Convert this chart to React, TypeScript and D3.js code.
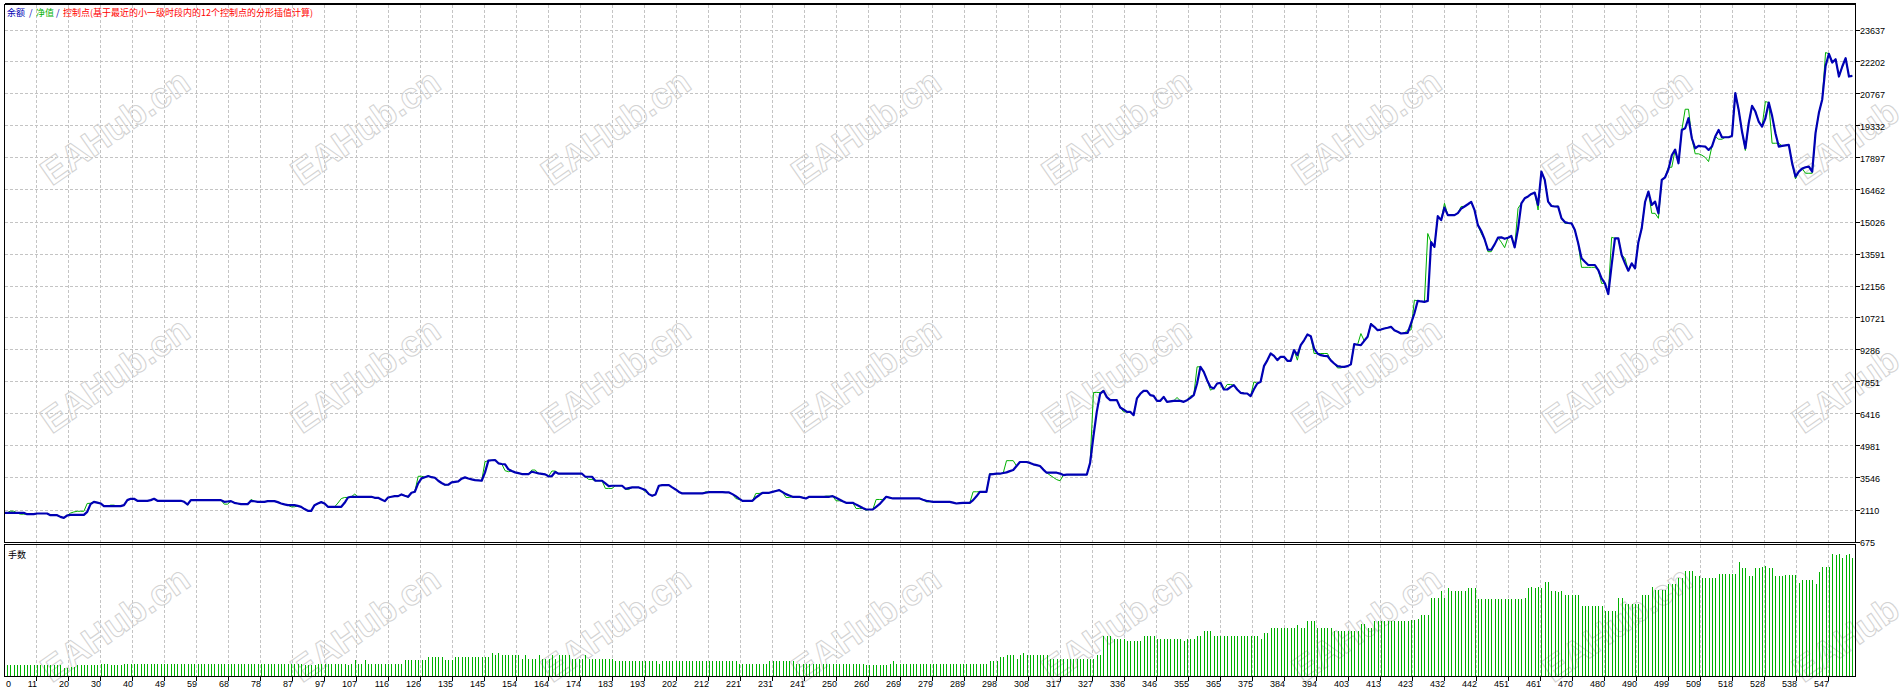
import React from "react";
import * as d3 from "d3";

// ---------- data ----------
const yTickLabels = [675, 2110, 3546, 4981, 6416, 7851, 9286, 10721, 12156, 13591, 15026, 16462, 17897, 19332, 20767, 22202, 23637];

const xTickLabels = [11, 20, 30, 40, 49, 59, 68, 78, 87, 97, 107, 116, 126, 135, 145, 154, 164, 174, 183, 193, 202, 212, 221, 231, 241, 250, 260, 269, 279, 289, 298, 308, 317, 327, 336, 346, 355, 365, 375, 384, 394, 403, 413, 423, 432, 442, 451, 461, 470, 480, 490, 499, 509, 518, 528, 538, 547];

const balance = [
  1960,1960,1960,1960,1960,1960,1960,1960,1900,1900,
  1900,1930,1930,1930,1930,1855,1855,1855,1780,1735,
  1840,1870,1870,1870,1870,1870,2005,2350,2455,2420,
  2380,2260,2260,2260,2260,2260,2260,2305,2530,2590,
  2590,2500,2500,2500,2500,2530,2590,2500,2500,2500,
  2500,2500,2500,2500,2500,2455,2335,2530,2530,2530,
  2530,2530,2530,2530,2530,2530,2530,2455,2470,2485,
  2410,2380,2350,2350,2350,2500,2480,2455,2455,2455,
  2485,2485,2485,2440,2380,2340,2305,2305,2305,2270,
  2230,2130,2050,2050,2305,2380,2440,2380,2230,2230,
  2230,2230,2230,2410,2650,2680,2680,2680,2680,2680,
  2680,2680,2635,2635,2560,2485,2650,2680,2710,2710,
  2785,2730,2680,2860,2905,3280,3505,3560,3610,3560,
  3535,3400,3300,3220,3220,3325,3350,3370,3490,3550,
  3500,3460,3430,3415,3400,3775,4300,4320,4330,4180,
  4150,4135,3910,3840,3775,3740,3700,3700,3700,3805,
  3770,3730,3710,3685,3600,3610,3790,3715,3715,3715,
  3715,3715,3715,3715,3715,3580,3580,3580,3400,3400,
  3400,3280,3160,3175,3175,3175,3175,3040,3070,3100,
  3100,3100,3040,2980,2800,2725,2785,3175,3205,3205,
  3205,3100,3010,2900,2830,2830,2830,2830,2830,2830,
  2830,2860,2890,2890,2890,2890,2890,2875,2875,2800,
  2710,2600,2500,2500,2500,2500,2650,2750,2860,2860,
  2860,2900,2940,2980,2890,2800,2740,2680,2680,2680,
  2640,2605,2680,2680,2680,2680,2680,2680,2680,2710,
  2640,2560,2480,2410,2410,2410,2330,2260,2180,2110,
  2110,2110,2230,2350,2510,2680,2640,2605,2605,2605,
  2605,2605,2605,2605,2605,2605,2550,2500,2480,2455,
  2455,2455,2455,2455,2455,2420,2380,2400,2410,2410,
  2410,2530,2700,2905,2905,2905,3685,3700,3715,3715,
  3745,3775,3830,3880,4060,4240,4240,4240,4200,4135,
  4100,4060,3900,3760,3760,3760,3760,3720,3655,3670,
  3670,3670,3670,3670,3670,3670,4200,5400,6500,7300,
  7433,7150,7014,7014,7014,6685,6595,6490,6490,6340,
  7089,7300,7433,7433,7238,7208,6984,6984,7163,6939,
  6960,6984,6984,6984,6939,7014,7120,7238,7761,8509,
  8285,7911,7600,7537,7761,7791,7492,7492,7600,7687,
  7492,7343,7320,7313,7193,7500,7761,7836,8539,8800,
  9106,9000,8808,8957,8957,8778,8778,9256,9032,9480,
  9700,9959,9884,9330,9106,9032,9002,8990,8800,8658,
  8539,8520,8509,8539,8620,9525,9500,9480,9675,9854,
  10422,10303,10153,10180,10228,10260,10303,10150,10078,10004,
  10020,10034,10452,10900,11468,11440,11424,11468,14100,13890,
  15266,15087,15650,15311,15311,15311,15400,15600,15700,15800,
  15909,15535,14862,14600,14230,13760,13760,14000,14300,14316,
  14250,14300,14376,13867,14700,15843,16067,16150,16261,16321,
  15767,17264,16890,15917,15723,15700,15693,15169,15000,14960,
  14945,14645,14047,13374,13224,13075,13075,13075,12850,12476,
  12251,11772,13075,14271,14271,13524,13150,12820,13150,12925,
  14100,14720,15900,16366,15767,15917,15393,16890,17010,17369,
  18000,18250,17638,19134,19209,19658,18760,18311,18416,18400,
  18386,18236,18386,18835,19134,18805,18805,18805,18865,20780,
  20032,19059,18311,19433,20212,19957,19508,19284,19658,20361,
  19763,18985,18386,18416,18440,18461,17638,17040,17264,17400,
  17459,17489,17264,19000,19900,20500,22000,22546,22157,22307,
  21528,21977,22352,21528,21558,
];

const equity = [
  1960,1960,1960,2035,2035,1960,1900,1900,1900,1900,
  1900,1930,1930,1930,1930,1855,1855,1855,1780,1735,
  1840,1950,2000,2030,2030,2030,2380,2390,2455,2420,
  2380,2260,2260,2305,2305,2260,2260,2305,2530,2590,
  2590,2500,2500,2500,2500,2530,2590,2500,2500,2500,
  2500,2500,2500,2500,2500,2455,2305,2530,2530,2530,
  2530,2530,2530,2530,2530,2530,2530,2350,2350,2485,
  2410,2380,2350,2350,2350,2560,2480,2455,2455,2455,
  2485,2485,2485,2440,2380,2340,2305,2230,2230,2270,
  2230,2130,2050,2050,2305,2380,2440,2380,2230,2230,
  2230,2400,2600,2650,2650,2680,2800,2680,2680,2680,
  2680,2680,2635,2635,2560,2485,2650,2680,2710,2710,
  2785,2730,2650,2860,2905,3600,3600,3560,3610,3560,
  3535,3400,3300,3200,3220,3325,3350,3370,3490,3550,
  3500,3460,3430,3415,3400,4255,4300,4320,4330,4180,
  4150,3850,3805,3840,3775,3740,3700,3700,3700,3880,
  3880,3730,3710,3685,3600,3835,3835,3715,3715,3715,
  3715,3715,3715,3715,3715,3580,3460,3460,3400,3400,
  3400,3055,3055,3055,3175,3175,3175,3010,3010,3100,
  3100,3100,3040,2905,2800,2725,2785,3175,3205,3205,
  3205,3100,3010,2905,2830,2830,2830,2830,2830,2830,
  2830,2905,2890,2890,2890,2890,2890,2875,2875,2800,
  2605,2560,2500,2500,2500,2500,2830,2830,2860,2860,
  2860,2900,2940,2980,2890,2650,2650,2680,2680,2680,
  2640,2605,2680,2680,2680,2680,2680,2710,2710,2710,
  2500,2500,2480,2410,2410,2410,2155,2155,2155,2080,
  2110,2110,2560,2560,2560,2680,2640,2605,2605,2605,
  2605,2605,2605,2605,2605,2605,2550,2455,2455,2455,
  2455,2455,2455,2455,2455,2420,2380,2400,2410,2410,
  2410,2905,2905,2905,2905,2905,3730,3700,3715,3715,
  3745,4300,4300,4300,4060,4240,4240,4240,4200,4135,
  4100,4060,3900,3760,3650,3550,3450,3400,3655,3670,
  3670,3670,3670,3670,3670,3670,4200,7358,7358,7358,
  7433,7150,7014,7014,7014,6685,6490,6490,6490,6340,
  7089,7300,7433,7433,7238,7208,6984,6984,7163,6939,
  6960,6984,7133,6984,6939,7014,7193,7238,8509,8509,
  8285,7911,7462,7537,7761,7791,7492,7717,7717,7687,
  7492,7343,7320,7313,7193,7836,7761,7836,8539,8800,
  9106,9000,8808,8957,8957,8778,8778,9256,8808,9480,
  9700,9959,9884,9106,9106,9106,9106,9106,8800,8658,
  8460,8460,8509,8539,8620,9525,9500,10000,9675,9854,
  10470,10303,10153,10180,10228,10260,10303,10150,10078,10004,
  10020,10160,10160,11500,11468,11440,11424,14488,14100,13890,
  15266,15087,15844,15311,15311,15311,15400,15700,15700,15800,
  15909,15535,14862,14488,14230,13673,13673,14000,14300,14100,
  13853,14300,14376,13867,15618,15843,16067,16150,16261,16321,
  15543,17264,16890,15917,15723,15700,15720,15169,14945,14945,
  14945,14645,14047,12970,12970,12970,12970,12970,12850,12251,
  12251,11772,14316,14271,14271,13524,13374,12820,13150,12925,
  14100,14720,15900,16366,15393,15393,15169,16890,17010,17459,
  17459,18250,17638,19134,20061,20061,18760,18062,18062,18000,
  17900,17713,18386,18835,18715,18715,18805,18805,18865,20780,
  20032,19059,18211,19433,20212,19957,19508,19284,20406,20361,
  18536,18536,18536,18416,18440,18461,17638,16935,17264,17400,
  17190,17190,17190,19000,19900,20500,22606,22546,22157,22307,
  21528,21977,22352,21528,21558,
];

const lots = [
  .08,.08,.08,.08,.08,.08,.08,.08,.08,.08,
  .08,.08,.08,.08,.08,.08,.08,.08,.08,.06,
  .06,.07,.07,.08,.08,.08,.08,.08,.08,.08,
  .09,.09,.09,.08,.08,.08,.08,.09,.09,.09,
  .09,.09,.09,.09,.09,.09,.09,.09,.09,.09,
  .09,.09,.09,.09,.09,.09,.09,.09,.09,.09,
  .09,.09,.09,.09,.09,.09,.09,.09,.09,.09,
  .09,.09,.09,.09,.09,.09,.09,.09,.09,.09,
  .09,.09,.09,.09,.09,.09,.09,.09,.09,.09,
  .09,.08,.08,.08,.08,.09,.09,.09,.09,.09,
  .09,.09,.09,.09,.08,.09,.12,.09,.09,.12,
  .09,.09,.09,.09,.09,.09,.09,.09,.09,.09,
  .09,.12,.12,.12,.12,.12,.12,.12,.14,.14,
  .14,.14,.14,.12,.12,.12,.14,.14,.14,.14,
  .14,.14,.14,.14,.14,.14,.14,.17,.16,.17,
  .16,.16,.16,.16,.16,.16,.13,.16,.13,.13,
  .13,.16,.13,.13,.13,.16,.13,.16,.16,.16,
  .16,.13,.13,.13,.13,.16,.13,.13,.13,.13,
  .13,.13,.13,.13,.11,.11,.11,.11,.11,.11,
  .11,.11,.11,.11,.11,.11,.11,.09,.11,.11,
  .11,.11,.11,.11,.11,.11,.11,.11,.11,.11,
  .11,.11,.11,.11,.11,.11,.11,.11,.11,.11,
  .11,.09,.09,.09,.09,.09,.09,.09,.09,.09,
  .11,.11,.11,.11,.11,.11,.11,.11,.09,.09,
  .09,.09,.09,.09,.09,.09,.09,.09,.09,.09,
  .09,.09,.09,.09,.09,.09,.09,.09,.09,.08,
  .08,.08,.08,.08,.08,.08,.09,.11,.09,.09,
  .09,.09,.09,.09,.09,.09,.09,.09,.09,.09,
  .09,.09,.09,.09,.09,.09,.09,.09,.09,.09,
  .09,.09,.09,.09,.09,.09,.11,.11,.11,.14,
  .14,.16,.16,.16,.13,.16,.17,.16,.16,.16,
  .16,.16,.16,.16,.13,.13,.13,.13,.13,.13,
  .13,.13,.13,.13,.13,.13,.13,.13,.16,.16,
  .30,.30,.30,.28,.28,.28,.28,.26,.26,.26,
  .26,.26,.30,.30,.30,.30,.28,.28,.28,.28,
  .28,.28,.28,.28,.26,.28,.28,.28,.30,.30,
  .34,.34,.34,.30,.30,.30,.30,.30,.30,.30,
  .30,.30,.30,.30,.30,.30,.30,.28,.32,.32,
  .36,.36,.36,.36,.36,.36,.36,.36,.38,.36,
  .36,.41,.41,.41,.36,.36,.36,.36,.36,.34,
  .34,.34,.34,.34,.34,.34,.34,.39,.39,.36,
  .36,.41,.41,.41,.41,.41,.41,.41,.41,.41,
  .41,.41,.42,.42,.43,.46,.46,.46,.59,.59,
  .59,.64,.59,.66,.64,.64,.64,.64,.64,.66,
  .66,.66,.58,.58,.58,.58,.58,.58,.58,.58,
  .58,.58,.58,.58,.58,.58,.59,.66,.67,.66,
  .67,.66,.71,.71,.64,.64,.63,.64,.61,.61,
  .61,.61,.61,.53,.53,.53,.53,.53,.53,.53,
  .49,.49,.49,.49,.59,.59,.54,.54,.54,.54,
  .54,.61,.61,.61,.67,.65,.65,.65,.65,.69,
  .69,.69,.74,.74,.79,.79,.79,.75,.75,.74,
  .74,.74,.74,.74,.77,.77,.77,.77,.77,.77,
  .86,.81,.81,.75,.75,.81,.81,.82,.83,.81,
  .81,.75,.75,.75,.76,.76,.76,.76,.70,.72,
  .72,.72,.72,.69,.78,.82,.82,.82,.92,.91,
  .92,.89,.91,.92,.89,
];

const watermarkText = "EAHub.cn";

// ---------- layout ----------
const W = 1900;
const H = 693;
const L = 4.5, R = 1855.5;
const mainTop = 4.5, mainBottom = 542.5;
const volTop = 544.5, volBottom = 676.5;

const BLUE = "#0000b4";
const GREEN = "#00b000";
const GRID = "#c4c4c4";
const NUM_FONT = "'Liberation Sans', Arial, sans-serif";
const CJK_FONT = "'Noto Sans CJK SC', sans-serif";

export default function App() {
  const n = balance.length;
  const x = d3.scaleLinear().domain([0, n - 1]).range([0.3, 0.3 + (n - 1) * 3.343]);
  const y = d3.scaleLinear().domain([yTickLabels[0], yTickLabels[yTickLabels.length - 1]]).range([541.5, 29.5]);
  const yv = d3.scaleLinear().domain([0, 1]).range([676, 543]);
  const xg = d3.scalePoint<number>().domain(xTickLabels).range([36.5, 1828.5]);

  const line = d3.line<number>().x((_, i) => x(i)).y((v) => y(v));
  const balPath = line(balance) || "";
  const eqPath = line(equity) || "";

  const wmCols = d3.range(8).map((k) => 115 + k * 250.3);
  const wmRows = [127, 375, 624];

  return (
    <svg width={W} height={H} viewBox={`0 0 ${W} ${H}`}
      style={{ position: "absolute", left: 0, top: 0, display: "block", background: "#fff" }}>
      <defs>
        <clipPath id="mainClip"><rect x={5} y={5} width={R - 5} height={mainBottom - 5.5} /></clipPath>
        <clipPath id="volClip"><rect x={5} y={volTop + 0.5} width={R - 5} height={volBottom - volTop - 1} /></clipPath>
      </defs>
      <rect x={0} y={0} width={W} height={H} fill="#fff" />

      {/* horizontal grid (main pane) */}
      <g stroke={GRID} strokeWidth={1} strokeDasharray="3,2" shapeRendering="crispEdges">
        {yTickLabels.map((t) => (
          <line key={"h" + t} x1={L} x2={R} y1={Math.round(y(t)) + 0.5} y2={Math.round(y(t)) + 0.5} />
        ))}
        {xTickLabels.map((t) => (
          <g key={"v" + t}>
            <line x1={xg(t)} x2={xg(t)} y1={mainTop} y2={mainBottom} />
            <line x1={xg(t)} x2={xg(t)} y1={volTop} y2={volBottom} />
          </g>
        ))}
      </g>

      {/* watermarks */}
      <g fill="none" stroke="#d2d2d2" strokeWidth={1} fontFamily={NUM_FONT} fontSize={36} fontWeight="bold">
        {wmRows.map((ry) =>
          wmCols.map((cx) => (
            <text key={ry + "-" + cx} transform={`translate(${cx},${ry}) rotate(-35)`} textAnchor="middle" dominantBaseline="central">
              {watermarkText}
            </text>
          ))
        )}
      </g>

      {/* volume bars */}
      <g clipPath="url(#volClip)" stroke={GREEN} strokeWidth={1} shapeRendering="crispEdges">
        {lots.map((v, i) => (
          <line key={i} x1={Math.round(x(i)) + 0.5} x2={Math.round(x(i)) + 0.5} y1={676} y2={yv(v)} />
        ))}
      </g>

      {/* equity & balance */}
      <g clipPath="url(#mainClip)" fill="none">
        <path d={eqPath} stroke={GREEN} strokeWidth={1} />
        <path d={balPath} stroke={BLUE} strokeWidth={2.2} strokeLinejoin="round" />
      </g>

      {/* frames */}
      <g fill="none" stroke="#000" strokeWidth={1} shapeRendering="crispEdges">
        <rect x={L} y={mainTop} width={R - L} height={mainBottom - mainTop} />
        <line x1={L} x2={R} y1={mainTop - 1} y2={mainTop - 1} />
        <rect x={L} y={volTop} width={R - L} height={volBottom - volTop} />
        {yTickLabels.map((t) => (
          <line key={"rt" + t} x1={R} x2={R + 4} y1={Math.round(y(t)) + 0.5} y2={Math.round(y(t)) + 0.5} />
        ))}
        {xTickLabels.map((t) => (
          <line key={"bt" + t} x1={xg(t)} x2={xg(t)} y1={volBottom} y2={volBottom + 4} />
        ))}
      </g>

      {/* right axis labels */}
      <g fontFamily={NUM_FONT} fontSize={9} fill="#000">
        {yTickLabels.map((t) => (
          <text key={"yl" + t} x={1860} y={y(t) + 4.3}>{t}</text>
        ))}
        <text x={6} y={687}>0</text>
        {xTickLabels.map((t) => (
          <text key={"xl" + t} x={(xg(t) as number) + 0.5} y={687} textAnchor="end">{t}</text>
        ))}
      </g>

      {/* legend */}
      <g fontFamily={CJK_FONT} fontSize={9}>
        <text x={7} y={15.5} fill={BLUE}>余额</text>
        <text x={29} y={15.5} fill={BLUE}>/</text>
        <text x={36} y={15.5} fill={GREEN}>净值</text>
        <text x={56} y={15.5} fill={BLUE}>/</text>
        <text x={63} y={15.5} fill="#ff0000">控制点(基于最近的小一级时段内的12个控制点的分形插值计算)</text>
        <text x={8} y={557.5} fill="#000">手数</text>
      </g>
    </svg>
  );
}
